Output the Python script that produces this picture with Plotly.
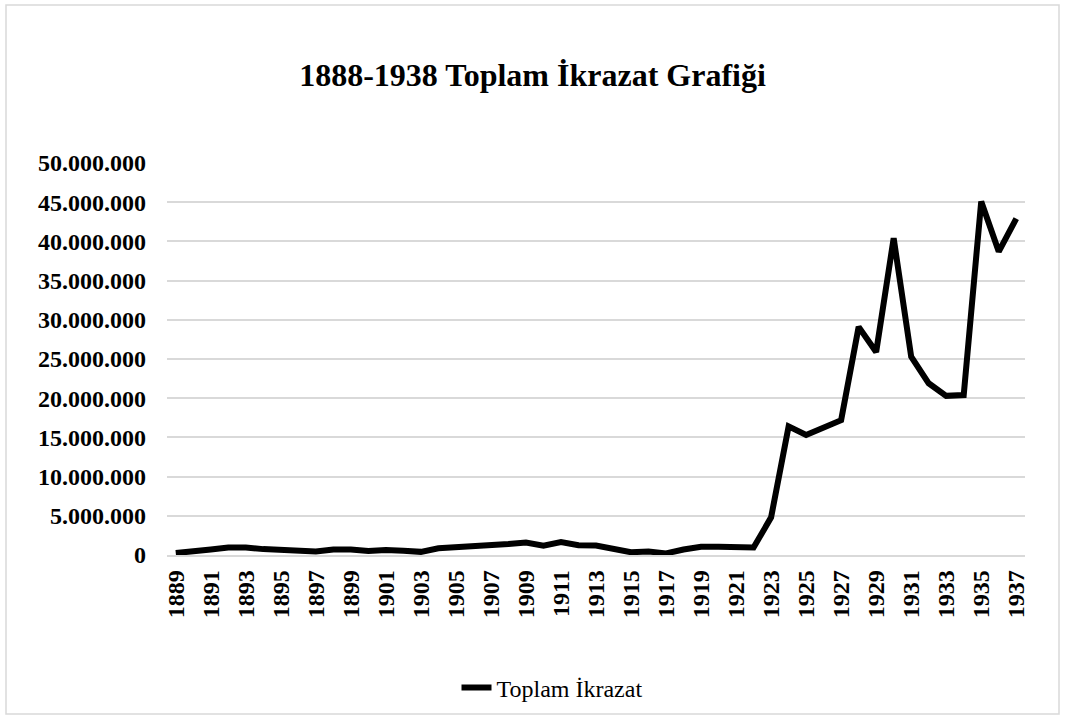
import plotly.graph_objects as go

years = list(range(1889, 1938))
values = [
    0.25, 0.55, 0.7, 0.95, 0.95, 0.75, 0.65, 0.6, 0.45, 0.7,
    0.7, 0.5, 0.65, 0.55, 0.4, 0.85, 0.95, 1.05, 1.3, 1.4,
    1.6, 1.2, 1.65, 1.25, 1.2, 0.7, 0.35, 0.45, 0.2, 0.7,
    1.05, 1.05, 0.95, 0.95, 4.8, 16.4, 15.3, 16.2, 17.2, 29.1,
    25.9, 40.4, 25.3, 21.9, 20.3, 20.4, 45.1, 38.7, 42.9,
]
values = [v * 1_000_000 for v in values]
series_name = "Toplam İkrazat"
title_text = "1888-1938 Toplam İkrazat Grafiği"

W, H = 1065, 720
L, R, T, B = 167, 40, 163, 165
pw, ph = W - L - R, H - T - B

fig = go.Figure()
fig.add_trace(go.Scatter(
    x=years, y=values, mode="lines", name=series_name,
    line=dict(color="black", width=6, shape="linear"),
))

serif = "Liberation Serif, Times New Roman, serif"
fig.update_layout(
    width=W, height=H,
    margin=dict(l=L, r=R, t=T, b=B, autoexpand=False),
    paper_bgcolor="white", plot_bgcolor="white",
    separators=",.",
    title=dict(text="<b>" + title_text + "</b>", x=0.5, xanchor="center",
               y=1 - 75 / H, yanchor="middle",
               font=dict(family=serif, size=32, color="black")),
    font=dict(family=serif, color="black"),
    showlegend=True,
    legend=dict(orientation="h", x=0.5 - 44 / pw, xanchor="center", y=-(688 - 555) / ph,
                yanchor="middle", font=dict(family=serif, size=24, color="black")),
    xaxis=dict(range=[1888.5, 1937.5], tickmode="linear", tick0=1889, dtick=2,
               tickangle=-90, showgrid=False, zeroline=False,
               showline=True, linecolor="#d9d9d9", linewidth=1.5,
               ticks="", ticklabelstandoff=4,
               tickfont=dict(family=serif, size=24, color="black", weight="bold")),
    yaxis=dict(range=[0, 50_000_000], tickmode="linear", tick0=0, dtick=5_000_000,
               tickformat=",d", showgrid=True, gridcolor="#d9d9d9", gridwidth=1.5,
               zeroline=False, showline=False, ticks="", ticklabelstandoff=20,
               tickfont=dict(family=serif, size=24, color="black", weight="bold")),
)

# outer chart border
fig.add_shape(type="rect", xref="paper", yref="paper",
              x0=(6 - L) / pw, x1=(1059 - L) / pw,
              y0=-(714 - T - ph) / ph, y1=1 + (T - 5) / ph,
              line=dict(color="#d9d9d9", width=1.5), fillcolor="rgba(0,0,0,0)",
              layer="below")

fig.write_html("out.html", config={"displayModeBar": False},
               post_script="document.body.style.margin='0';document.body.style.overflow='hidden';")
